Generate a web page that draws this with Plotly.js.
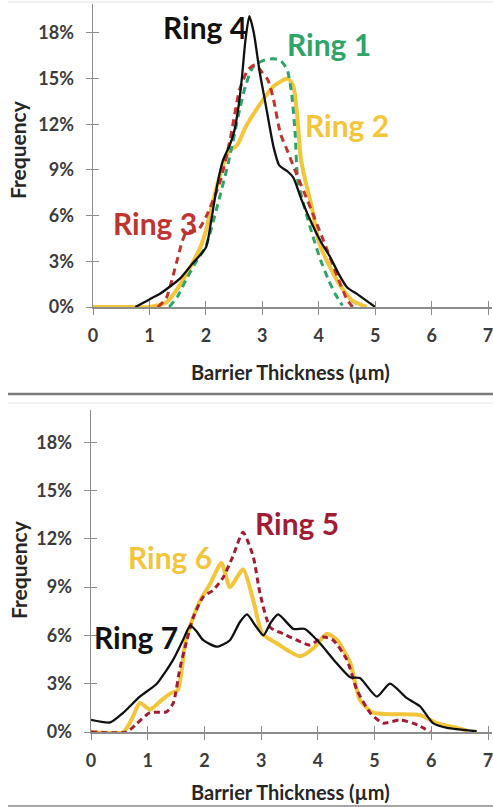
<!DOCTYPE html>
<html>
<head>
<meta charset="utf-8">
<script src="https://cdn.plot.ly/plotly-3.0.1.min.js"></script>
<style>html,body{margin:0;padding:0;background:#fff;}#chart{width:493px;height:807px;}</style>
</head>
<body>
<div id="chart"></div>
<script>
// ---- Top panel (Rings 1-4) ----
const ring1X = [1.35,1.5,1.65,1.8,2.0,2.2,2.4,2.6,2.7,2.84,3.02,3.2,3.32,3.44,3.52,3.58,3.63,3.75,3.9,4.03,4.17,4.3,4.42];
const ring1Y = [0,0.7,1.8,2.8,4.0,6.6,9.5,13.0,14.5,15.8,16.2,16.3,16.2,15.6,14.0,11.5,8.3,6.5,4.6,3.1,1.8,0.8,0.1];
const ring2X = [0,0.5,1.0,1.3,1.6,1.9,2.0,2.2,2.4,2.55,2.7,2.9,3.2,3.45,3.55,3.62,3.68,3.75,3.88,4.0,4.2,4.4,4.6,4.85];
const ring2Y = [0,0,0,0.3,1.8,3.9,5.0,8.0,10.2,10.6,11.8,13.0,14.5,15.0,14.5,12.5,9.8,8.5,6.5,4.3,2.6,1.3,0.4,0];
const ring3X = [1.15,1.3,1.4,1.5,1.58,1.65,1.75,1.85,2.0,2.25,2.43,2.6,2.75,2.87,3.0,3.1,3.2,3.32,3.44,3.6,3.8,4.08,4.33,4.5,4.6];
const ring3Y = [0,0.6,1.8,3.2,4.3,4.9,5.0,5.0,5.9,8.2,11.0,14.3,15.6,15.9,15.4,14.9,13.6,11.4,10.3,8.8,7.0,4.4,2.0,0.5,0];
const ring4X = [0.75,1.0,1.2,1.55,1.75,2.0,2.1,2.2,2.3,2.42,2.5,2.58,2.64,2.7,2.77,2.85,2.95,3.05,3.2,3.3,3.45,3.55,3.7,3.9,4.05,4.2,4.35,4.5,4.7,5.0];
const ring4Y = [0,0.5,0.9,1.9,2.8,3.9,5.8,8.0,9.6,10.6,11.5,13.2,15.1,17.5,19.1,18.0,15.5,13.5,10.5,9.3,8.9,8.5,7.0,5.3,4.2,3.3,2.2,1.3,0.8,0];
// ---- Bottom panel (Rings 5-7) ----
const ring5X = [0,0.63,0.8,1.04,1.33,1.45,1.57,1.69,1.8,1.98,2.15,2.33,2.5,2.68,2.86,2.98,3.16,3.39,3.63,3.86,4.09,4.27,4.51,4.69,4.92,5.15,5.45,5.75,5.98];
const ring5Y = [0,0,0.5,1.2,1.25,1.8,4.0,5.7,7.1,8.4,8.8,9.6,10.9,12.4,10.9,8.6,6.5,6.1,5.7,5.4,5.9,5.7,4.5,2.6,1.2,0.55,0.75,0.45,0];
const ring6X = [0,0.57,0.72,0.86,1.04,1.25,1.4,1.53,1.66,1.75,1.93,2.1,2.3,2.45,2.68,2.86,3.02,3.28,3.5,3.69,3.92,4.16,4.34,4.57,4.74,4.97,5.33,5.8,6.1,6.45,6.63];
const ring6Y = [0,0,0.8,1.8,1.4,2.0,2.4,2.6,5.5,6.6,8.2,9.2,10.5,9.0,10.1,8.2,6.1,5.5,5.0,4.7,5.2,6.1,5.7,4.3,2.0,1.2,1.1,1.05,0.55,0.25,0.1];
const ring7X = [0,0.34,0.57,0.86,1.16,1.45,1.62,1.75,1.85,1.98,2.22,2.45,2.62,2.75,2.9,3.04,3.17,3.3,3.57,3.77,4.04,4.3,4.57,4.74,5.04,5.27,5.57,5.8,6.03,6.28,6.8];
const ring7Y = [0.75,0.6,1.2,2.2,3.0,4.5,5.7,6.6,6.3,5.7,5.3,5.7,6.8,7.3,6.6,6.0,6.8,7.3,6.4,6.4,5.5,4.4,3.4,3.35,2.2,3.0,2.1,1.6,0.55,0.25,0.05];
// ---- Axis ticks / labels ----
const xTickVals = [0,1,2,3,4,5,6,7];
const yTickVals = [0,3,6,9,12,15,18];
const yTickText = ['0%','3%','6%','9%','12%','15%','18%'];
const seriesNames = ['Ring 1','Ring 2','Ring 3','Ring 4','Ring 5','Ring 6','Ring 7'];
const xTitle = 'Barrier Thickness (µm)';
const yTitle = 'Frequency';

const GREEN = '#2ea468', GOLD = '#f3c53a', RED3 = '#c0332e', RED5 = '#a31c35', BLACK = '#111111';
const FONT = 'Lato, "Open Sans", sans-serif';

function tr(x, y, name, color, width, dash, xa, ya) {
  return {x: x, y: y, name: name, type: 'scatter', mode: 'lines', xaxis: xa, yaxis: ya,
          line: {color: color, width: width, dash: dash, shape: 'spline', smoothing: 0.6},
          hoverinfo: 'skip', showlegend: false};
}
const data = [
  tr(ring2X, ring2Y, seriesNames[1], GOLD, 4, 'solid', 'x', 'y'),
  tr(ring1X, ring1Y, seriesNames[0], GREEN, 3, '7px,5px', 'x', 'y'),
  tr(ring3X, ring3Y, seriesNames[2], RED3, 3, '7px,5px', 'x', 'y'),
  tr(ring4X, ring4Y, seriesNames[3], BLACK, 2.3, 'solid', 'x', 'y'),
  tr(ring6X, ring6Y, seriesNames[5], GOLD, 4, 'solid', 'x2', 'y2'),
  tr(ring5X, ring5Y, seriesNames[4], RED5, 3, '6px,4px', 'x2', 'y2'),
  tr(ring7X, ring7Y, seriesNames[6], BLACK, 2.3, 'solid', 'x2', 'y2'),
  {x: [], y: [], xaxis: 'x3', yaxis: 'y3', type: 'scatter', showlegend: false},
  {x: [], y: [], xaxis: 'x4', yaxis: 'y4', type: 'scatter', showlegend: false}
];

const W = 493, H = 807;
const px = v => v / W;
const py = v => 1 - v / H;
const tickFont = {family: FONT, size: 18, color: '#3c3c3c', weight: 700};
const AXCOL = '#8c8c8c';

function xAx(domain, anchor, range) {
  return {domain: domain, anchor: anchor, range: range, tickvals: xTickVals, ticktext: xTickVals.map(String),
          ticks: 'outside', ticklen: 6, tickwidth: 1, tickcolor: AXCOL, showline: true, linecolor: AXCOL, linewidth: 1.5,
          showgrid: false, zeroline: false, tickfont: tickFont, ticklabelstandoff: 6, ticklabeloverflow: 'allow',
          fixedrange: true};
}
function yAx(domain, anchor, range) {
  return {domain: domain, anchor: anchor, range: range, tickvals: yTickVals, ticktext: yTickText,
          ticks: 'outside', ticklen: 6, tickwidth: 1, tickcolor: AXCOL, showline: true, linecolor: AXCOL, linewidth: 1.5,
          showgrid: false, zeroline: false, tickfont: tickFont, ticklabelstandoff: 8, ticklabeloverflow: 'allow',
          fixedrange: true};
}
function xIn(over, anchor, range) {
  return {overlaying: over, anchor: anchor, range: range, tickvals: xTickVals, ticks: 'inside', ticklen: 6,
          tickwidth: 1, tickcolor: AXCOL, showticklabels: false, showline: false, showgrid: false, zeroline: false};
}
function yIn(over, anchor, range) {
  return {overlaying: over, anchor: anchor, range: range, tickvals: yTickVals, ticks: 'inside', ticklen: 6,
          tickwidth: 1, tickcolor: AXCOL, showticklabels: false, showline: false, showgrid: false, zeroline: false};
}

const xr1 = [0, 7.07], yr1 = [0, 19.9];
const xr2 = [0, 7.07], yr2 = [0, 20.0];

function lab(text, x, y, xref, yref, color, size) {
  return {text: text, x: x, y: y, xref: xref, yref: yref, showarrow: false,
          font: {family: FONT, size: size, color: color, weight: 700}, xanchor: 'center', yanchor: 'middle'};
}

const layout = {
  width: W, height: H, margin: {l: 0, r: 0, t: 0, b: 0},
  paper_bgcolor: '#ffffff', plot_bgcolor: 'rgba(0,0,0,0)', showlegend: false,
  xaxis: xAx([px(93), px(492)], 'y', xr1),
  yaxis: yAx([py(307), py(4)], 'x', yr1),
  xaxis2: xAx([px(91), px(492)], 'y2', xr2),
  yaxis2: yAx([py(732), py(410)], 'x2', yr2),
  xaxis3: xIn('x', 'y', xr1),
  yaxis3: yIn('y', 'x', yr1),
  xaxis4: xIn('x2', 'y2', xr2),
  yaxis4: yIn('y2', 'x2', yr2),
  annotations: [
    lab(seriesNames[3], 1.99, 18.4, 'x', 'y', BLACK, 30),
    lab(seriesNames[0], 4.18, 17.3, 'x', 'y', GREEN, 30),
    lab(seriesNames[1], 4.5, 11.96, 'x', 'y', GOLD, 30),
    lab(seriesNames[2], 1.1, 5.5, 'x', 'y', RED3, 30),
    lab(seriesNames[4], 3.63, 13.0, 'x2', 'y2', RED5, 30),
    lab(seriesNames[5], 1.39, 10.9, 'x2', 'y2', GOLD, 30),
    lab(seriesNames[6], 0.79, 5.9, 'x2', 'y2', BLACK, 30),
    lab(xTitle, px(290), py(372), 'paper', 'paper', '#262626', 20),
    lab(xTitle, px(290), py(792), 'paper', 'paper', '#262626', 20),
    Object.assign(lab(yTitle, px(18), py(150), 'paper', 'paper', '#262626', 21), {textangle: -90}),
    Object.assign(lab(yTitle, px(18), py(570), 'paper', 'paper', '#262626', 21), {textangle: -90})
  ],
  shapes: [
    {type: 'line', xref: 'paper', yref: 'paper', x0: px(8), x1: 1, y0: py(394), y1: py(394), line: {color: '#7a7a7a', width: 2.5}},
    {type: 'line', xref: 'paper', yref: 'paper', x0: px(8), x1: 1, y0: py(2), y1: py(2), line: {color: '#ececec', width: 1.5}},
    {type: 'line', xref: 'paper', yref: 'paper', x0: px(8), x1: 1, y0: py(403), y1: py(403), line: {color: '#ececec', width: 1.5}},
    {type: 'line', xref: 'paper', yref: 'paper', x0: px(8), x1: 1, y0: py(806), y1: py(806), line: {color: '#8a8a8a', width: 1.5}}
  ]
};

Plotly.newPlot('chart', data, layout, {displayModeBar: false, staticPlot: true});
</script>
</body>
</html>
